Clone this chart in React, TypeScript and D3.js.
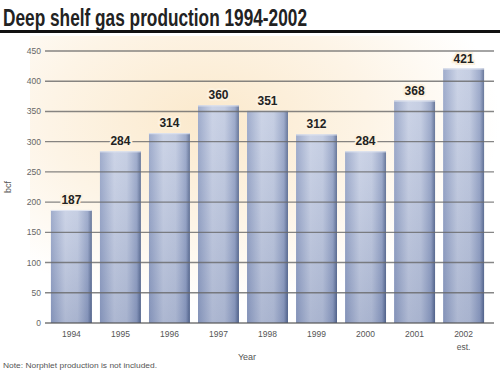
import { useEffect, useRef } from "react"
import * as d3 from "d3"

const years = ["1994", "1995", "1996", "1997", "1998", "1999", "2000", "2001", "2002"]
const production = [187, 284, 314, 360, 351, 312, 284, 368, 421]
const yTicks = [0, 50, 100, 150, 200, 250, 300, 350, 400, 450]

export default function App() {
  const svgRef = useRef<SVGSVGElement>(null)

  useEffect(() => {
    if (!svgRef.current) return
    const svg = d3.select(svgRef.current)
    svg.selectAll("*").remove()

    const width = 500
    const height = 372
    const sans = "'Liberation Sans', Arial, sans-serif"

    const x = d3.scaleBand().domain(years).range([47, 488]).paddingInner(0.165).paddingOuter(0.08)
    const y = d3.scaleLinear().domain([0, 450]).range([323, 51])

    const defs = svg.append("defs")
    const bg = defs
      .append("radialGradient")
      .attr("id", "bg")
      .attr("cx", "38%")
      .attr("cy", "28%")
      .attr("r", "62%")
    bg.append("stop").attr("offset", "0%").attr("stop-color", "#fbe9cc")
    bg.append("stop").attr("offset", "55%").attr("stop-color", "#fdf4e6")
    bg.append("stop").attr("offset", "100%").attr("stop-color", "#ffffff")

    const barGrad = defs.append("linearGradient").attr("id", "bar").attr("x1", "0").attr("x2", "1")
    barGrad.append("stop").attr("offset", "0%").attr("stop-color", "#8f9ec3")
    barGrad.append("stop").attr("offset", "35%").attr("stop-color", "#c3cce2")
    barGrad.append("stop").attr("offset", "65%").attr("stop-color", "#bcc6de")
    barGrad.append("stop").attr("offset", "90%").attr("stop-color", "#8e9dc2")
    barGrad.append("stop").attr("offset", "100%").attr("stop-color", "#4f6189")

    const shade = defs.append("linearGradient").attr("id", "shade").attr("x1", "0").attr("x2", "0").attr("y1", "0").attr("y2", "1")
    shade.append("stop").attr("offset", "0%").attr("stop-color", "#ffffff").attr("stop-opacity", 0.15)
    shade.append("stop").attr("offset", "100%").attr("stop-color", "#4a5a85").attr("stop-opacity", 0.18)

    svg.append("rect").attr("width", width).attr("height", height).attr("fill", "#ffffff")
    svg.append("rect").attr("x", 30).attr("y", 36).attr("width", 470).attr("height", 300).attr("fill", "url(#bg)")

    // Title (condensed look via textLength)
    svg
      .append("text")
      .attr("x", 3)
      .attr("y", 26)
      .attr("font-family", sans)
      .attr("font-weight", "bold")
      .attr("font-size", 23)
      .attr("fill", "#222")
      .attr("textLength", 304)
      .attr("lengthAdjust", "spacingAndGlyphs")
      .text("Deep shelf gas production 1994-2002")

    svg.append("rect").attr("x", 0).attr("y", 30).attr("width", width).attr("height", 3).attr("fill", "#111")

    // Bars
    const bars = svg.append("g")
    years.forEach((yr, i) => {
      const bx = x(yr) ?? 0
      const top = y(production[i])
      bars
        .append("rect")
        .attr("x", bx)
        .attr("y", top)
        .attr("width", x.bandwidth())
        .attr("height", y(0) - top)
        .attr("fill", "url(#bar)")
      bars
        .append("rect")
        .attr("x", bx)
        .attr("y", top)
        .attr("width", x.bandwidth())
        .attr("height", y(0) - top)
        .attr("fill", "url(#shade)")
      bars
        .append("line")
        .attr("x1", bx)
        .attr("x2", bx + x.bandwidth())
        .attr("y1", top + 0.5)
        .attr("y2", top + 0.5)
        .attr("stroke", "#dfe4f0")
        .attr("stroke-width", 1)
    })

    // Grid lines + y ticks
    const grid = svg.append("g")
    yTicks.forEach((t) => {
      grid
        .append("line")
        .attr("x1", 45)
        .attr("x2", 494)
        .attr("y1", y(t))
        .attr("y2", y(t))
        .attr("stroke", t === 0 ? "#555" : "#686868")
        .attr("stroke-opacity", 0.8)
        .attr("stroke-width", t === 0 ? 1.6 : 1.4)
      grid
        .append("text")
        .attr("x", 41)
        .attr("y", y(t) + 3)
        .attr("text-anchor", "end")
        .attr("font-family", sans)
        .attr("font-size", 8.5)
        .attr("fill", "#666")
        .text(t)
    })

    // Value labels
    years.forEach((yr, i) => {
      svg
        .append("text")
        .attr("x", (x(yr) ?? 0) + x.bandwidth() / 2 - 10)
        .attr("y", y(production[i]) - 6)
        .attr("font-family", sans)
        .attr("font-weight", "bold")
        .attr("font-size", 13)
        .attr("fill", "#222")
        .attr("stroke", "#fcf1de")
        .attr("stroke-width", 4)
        .attr("paint-order", "stroke")
        .attr("textLength", 20)
        .attr("lengthAdjust", "spacingAndGlyphs")
        .text(production[i])
    })

    // X labels
    years.forEach((yr) => {
      svg
        .append("text")
        .attr("x", (x(yr) ?? 0) + x.bandwidth() / 2)
        .attr("y", 337)
        .attr("text-anchor", "middle")
        .attr("font-family", sans)
        .attr("font-size", 8.5)
        .attr("fill", "#555")
        .text(yr)
    })
    svg
      .append("text")
      .attr("x", (x("2002") ?? 0) + x.bandwidth() / 2)
      .attr("y", 350)
      .attr("text-anchor", "middle")
      .attr("font-family", sans)
      .attr("font-size", 8.5)
      .attr("fill", "#555")
      .text("est.")

    svg
      .append("text")
      .attr("x", 247)
      .attr("y", 360)
      .attr("text-anchor", "middle")
      .attr("font-family", sans)
      .attr("font-size", 9)
      .attr("fill", "#555")
      .text("Year")

    svg
      .append("text")
      .attr("transform", `translate(11, ${y(225)}) rotate(-90)`)
      .attr("text-anchor", "middle")
      .attr("font-family", sans)
      .attr("font-size", 9)
      .attr("fill", "#555")
      .text("bcf")

    svg
      .append("text")
      .attr("x", 3)
      .attr("y", 368)
      .attr("font-family", sans)
      .attr("font-size", 8)
      .attr("fill", "#555")
      .attr("textLength", 154)
      .attr("lengthAdjust", "spacingAndGlyphs")
      .text("Note: Norphlet production is not included.")
  }, [])

  return (
    <svg
      ref={svgRef}
      width={500}
      height={372}
      style={{ position: "absolute", left: 0, top: 0, display: "block" }}
    />
  )
}
